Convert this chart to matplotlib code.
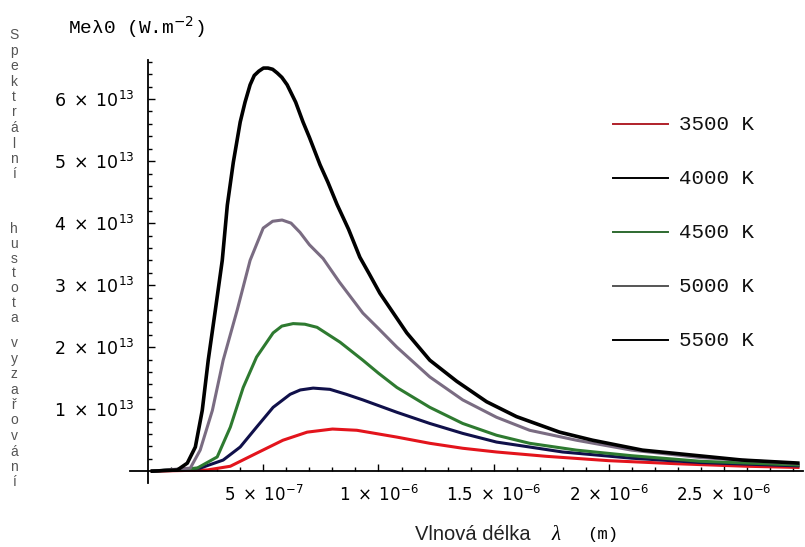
import numpy as np
import matplotlib
matplotlib.use("Agg")
import matplotlib.pyplot as plt
from matplotlib.ticker import FixedLocator, FixedFormatter
from matplotlib.lines import Line2D

# wavelength in micrometres, exitance in 1e13 W.m^-2
x_3500 = [0.01, 0.256, 0.356, 0.47, 0.585, 0.69, 0.80, 0.906, 1.08, 1.223, 1.366, 1.513, 1.73, 2.0, 2.3, 2.6, 2.83]
y_3500 = [0.0, 0.02, 0.08, 0.29, 0.50, 0.63, 0.68, 0.66, 0.55, 0.45, 0.37, 0.31, 0.24, 0.17, 0.12, 0.08, 0.06]

x_4000 = [0.01, 0.225, 0.325, 0.399, 0.47, 0.542, 0.616, 0.66, 0.716, 0.789, 0.86, 0.932, 1.08, 1.223, 1.366, 1.513, 1.657, 1.80, 2.1, 2.4, 2.83]
y_4000 = [0.0, 0.05, 0.18, 0.39, 0.71, 1.03, 1.24, 1.31, 1.34, 1.32, 1.24, 1.15, 0.95, 0.77, 0.61, 0.47, 0.39, 0.31, 0.21, 0.14, 0.085]

x_4500 = [0.01, 0.212, 0.299, 0.356, 0.412, 0.47, 0.542, 0.58, 0.629, 0.68, 0.733, 0.833, 0.932, 1.0, 1.08, 1.223, 1.366, 1.513, 1.657, 1.86, 2.1, 2.4, 2.83]
y_4500 = [0.0, 0.05, 0.23, 0.71, 1.35, 1.84, 2.23, 2.34, 2.38, 2.37, 2.32, 2.08, 1.79, 1.58, 1.35, 1.03, 0.77, 0.58, 0.45, 0.34, 0.25, 0.16, 0.10]

x_5000 = [0.01, 0.182, 0.225, 0.278, 0.325, 0.386, 0.442, 0.499, 0.54, 0.581, 0.62, 0.659, 0.70, 0.759, 0.83, 0.932, 1.0, 1.08, 1.223, 1.366, 1.513, 1.657, 1.86, 2.1, 2.4, 2.83]
y_5000 = [0.0, 0.05, 0.34, 0.98, 1.79, 2.60, 3.40, 3.92, 4.03, 4.05, 4.00, 3.85, 3.65, 3.43, 3.05, 2.55, 2.30, 2.00, 1.52, 1.15, 0.87, 0.66, 0.50, 0.34, 0.22, 0.12]

x_5500 = [0.01, 0.126, 0.169, 0.204, 0.234, 0.260, 0.291, 0.321, 0.343, 0.369, 0.399, 0.42, 0.442, 0.46, 0.48, 0.50, 0.52, 0.54, 0.56, 0.58, 0.603, 0.64, 0.672, 0.70, 0.746, 0.78, 0.82, 0.87, 0.919, 0.96, 1.006, 1.123, 1.223, 1.34, 1.47, 1.60, 1.787, 1.93, 2.147, 2.363, 2.58, 2.83]
y_5500 = [0.0, 0.02, 0.13, 0.39, 0.98, 1.79, 2.60, 3.40, 4.29, 4.98, 5.63, 5.95, 6.23, 6.38, 6.45, 6.50, 6.50, 6.48, 6.42, 6.35, 6.23, 5.95, 5.63, 5.38, 4.94, 4.66, 4.30, 3.90, 3.45, 3.18, 2.87, 2.23, 1.79, 1.45, 1.12, 0.88, 0.63, 0.50, 0.34, 0.26, 0.18, 0.13]

labels = ['3500 K', '4000 K', '4500 K', '5000 K', '5500 K']
colors = ['#e3141c', '#10104a', '#2e7a30', '#7a6c82', '#000000']
legend_colors = ['#b0202a', '#000000', '#2e6a30', '#555555', '#000000']

y_ticks = [1, 2, 3, 4, 5, 6]
y_ticklabels = [r'$\mathregular{%d\;\times\;10^{13}}$' % v for v in y_ticks]
x_ticks = [0.5, 1.0, 1.5, 2.0, 2.5]
x_ticklabels = [r'$\mathregular{5\;\times\;10^{-7}}$', r'$\mathregular{1\;\times\;10^{-6}}$',
                r'$\mathregular{1.5\;\times\;10^{-6}}$', r'$\mathregular{2\;\times\;10^{-6}}$',
                r'$\mathregular{2.5\;\times\;10^{-6}}$']

plt.rcParams['font.family'] = ['Liberation Sans', 'DejaVu Sans']

fig = plt.figure(figsize=(8.05, 5.47), dpi=100)
W, H = 805, 547
ax = fig.add_axes([130 / W, (H - 483) / H, (803 - 130) / W, 423 / H])

series = [(x_3500, y_3500), (x_4000, y_4000), (x_4500, y_4500), (x_5000, y_5000), (x_5500, y_5500)]
for (xs, ys), c in zip(series, colors):
    lw = 2.6 if c == '#000000' else 2.2
    ax.plot(np.array(xs) * 1e-6, np.array(ys) * 1e13, color=c, lw=lw,
            solid_joinstyle='round', solid_capstyle='butt')

ax.set_xlim(-0.08e-6, 2.845e-6)
ax.set_ylim(-0.19e13, 6.63e13)

for s in ['top', 'right']:
    ax.spines[s].set_visible(False)
ax.spines['left'].set_position(('data', 0))
ax.spines['bottom'].set_position(('data', 0))
ax.spines['left'].set_linewidth(1.3)
ax.spines['bottom'].set_linewidth(1.3)

ax.xaxis.set_major_locator(FixedLocator([v * 1e-6 for v in x_ticks]))
ax.xaxis.set_major_formatter(FixedFormatter(x_ticklabels))
ax.xaxis.set_minor_locator(FixedLocator([v * 1e-7 for v in range(1, 29)]))
ax.yaxis.set_major_locator(FixedLocator([v * 1e13 for v in y_ticks]))
ax.yaxis.set_major_formatter(FixedFormatter(y_ticklabels))
ax.yaxis.set_minor_locator(FixedLocator([v * 0.2e13 for v in range(1, 34)]))

ax.tick_params(which='both', direction='in', width=1.0, colors='black')
ax.tick_params(which='major', length=5)
ax.tick_params(which='minor', length=3)
for t in ax.get_xticklabels() + ax.get_yticklabels():
    t.set_family('DejaVu Sans')
ax.tick_params(axis='x', which='major', pad=10, labelsize=12)
ax.tick_params(axis='y', which='major', pad=10, labelsize=12.5)

# legend, drawn by hand
for i, (lab, c) in enumerate(zip(labels, legend_colors)):
    yy = 1 - (124 + 54 * i) / H
    fig.add_artist(Line2D([613 / W, 668 / W], [yy, yy], color=c, lw=1.4))
    fig.text(679 / W, yy, lab, family='Liberation Mono', fontsize=15,
             va='center', ha='left', color='#111111')

# title above the y axis
fig.text(68 / W, 1 - 27 / H, 'Me\u03bb0 (W.m$^{-2}$)', family='Liberation Mono',
         fontsize=14, va='center', ha='left')

# x axis label
fig.text(415 / W, 1 - 534 / H, 'Vlnov\u00e1 d\u00e9lka', fontsize=14.5, va='center', ha='left',
         color='#222222')
fig.text(552 / W, 1 - 535 / H, '\u03bb', family='Liberation Serif', fontsize=15,
         style='italic', va='center', ha='left')
fig.text(587 / W, 1 - 534 / H, '(m)', family='Liberation Mono', fontsize=12.5,
         va='center', ha='left')

# stacked y label
blocks = [('Spektr\u00e1ln\u00ed', 35, 15.5), ('hustota', 229, 14.8), ('vyza\u0159ov\u00e1n\u00ed', 343, 15.5)]
for word, y0, step in blocks:
    for k, ch in enumerate(word):
        fig.text(14 / W, 1 - (y0 + k * step) / H, ch, fontsize=10, color='#555555',
                 ha='center', va='center')

fig.savefig('out.png', dpi=100)
